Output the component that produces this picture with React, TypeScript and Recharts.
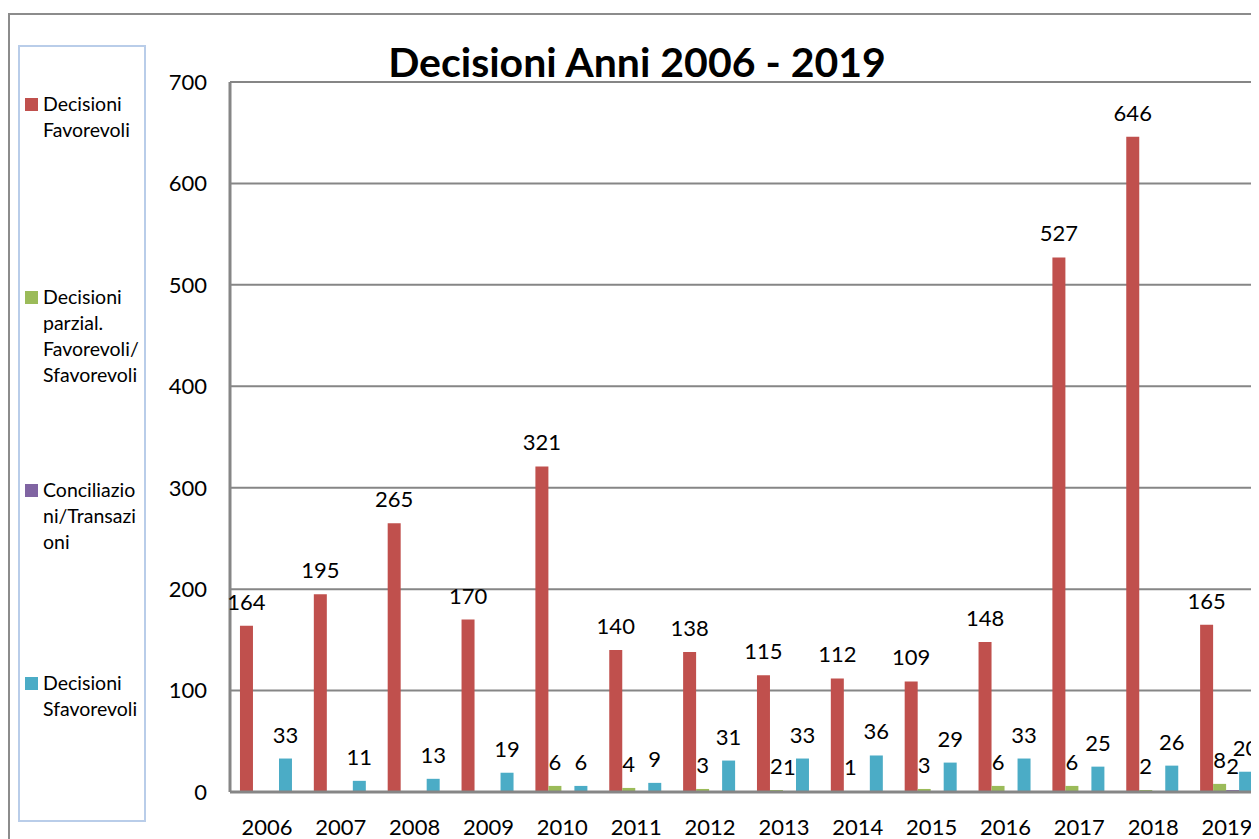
import React from 'react'
import { BarChart, Bar, XAxis, YAxis, CartesianGrid, LabelList } from 'recharts'

const years = ['2006', '2007', '2008', '2009', '2010', '2011', '2012', '2013', '2014', '2015', '2016', '2017', '2018', '2019']
const favorevoli = [164, 195, 265, 170, 321, 140, 138, 115, 112, 109, 148, 527, 646, 165]
const parziali = [0, 0, 0, 0, 6, 4, 3, 2, 1, 3, 6, 6, 2, 8]
const conciliazioni = [0, 0, 0, 0, 0, 0, 0, 1, 0, 0, 0, 0, 0, 2]
const sfavorevoli = [33, 11, 13, 19, 6, 9, 31, 33, 36, 29, 33, 25, 26, 20]
const yTicks = [0, 100, 200, 300, 400, 500, 600, 700]

const series = [
  { key: 'favorevoli', lines: ['Decisioni', 'Favorevoli'], color: '#C0504D' },
  { key: 'parziali', lines: ['Decisioni', 'parzial.', 'Favorevoli/', 'Sfavorevoli'], color: '#9BBB59' },
  { key: 'conciliazioni', lines: ['Conciliazio', 'ni/Transazi', 'oni'], color: '#8064A2' },
  { key: 'sfavorevoli', lines: ['Decisioni', 'Sfavorevoli'], color: '#4BACC6' },
]

const data = years.map((year, i) => ({
  year,
  favorevoli: favorevoli[i],
  parziali: parziali[i],
  conciliazioni: conciliazioni[i],
  sfavorevoli: sfavorevoli[i],
}))

const font = 'Lato, "Open Sans", sans-serif'
const hideZero = (v: any) => (v ? v : '')

export default function App() {
  return (
    <div style={{ position: 'relative', width: 1251, height: 831, overflow: 'hidden', fontFamily: font }}>
      {/* outer frame */}
      <div style={{ position: 'absolute', left: 0, top: 5, width: 1400, height: 1000, border: '2px solid #8c8c8c' }} />

      {/* legend box */}
      <div style={{ position: 'absolute', left: 10, top: 37, width: 124, height: 773, border: '2px solid #b9cde9' }} />
      {series.map((s, i) => (
        <div key={s.key} style={{ position: 'absolute', left: 17, top: 83 + i * 193, display: 'flex' }}>
          <div style={{ width: 13, height: 13, background: s.color, marginTop: 7, marginRight: 5 }} />
          <div style={{ fontSize: 19.5, lineHeight: '26px', color: '#000' }}>
            {s.lines.map((l) => (
              <div key={l}>{l}</div>
            ))}
          </div>
        </div>
      ))}

      <div style={{ position: 'absolute', left: 0, top: 0 }}>
        <BarChart
          width={1270}
          height={831}
          data={data}
          margin={{ top: 74, right: 14, left: 0, bottom: 0 }}
          barCategoryGap="13.5%"
          barGap={0}
        >
          <CartesianGrid vertical={false} stroke="#868686" strokeWidth={2} />
          <XAxis
            dataKey="year"
            height={47}
            tickLine={false}
            tickSize={6}
            tickMargin={21}
            axisLine={{ stroke: '#868686', strokeWidth: 3 }}
            tick={{ fill: '#000', fontSize: 22, fontFamily: font }}
            interval={0}
          />
          <YAxis
            width={222}
            domain={[0, 700]}
            ticks={yTicks}
            tickLine={false}
            tickSize={6}
            tickMargin={17}
            axisLine={{ stroke: '#868686', strokeWidth: 3 }}
            tick={{ fill: '#000', fontSize: 22, fontFamily: font }}
          />
          {series.map((s) => (
            <Bar key={s.key} dataKey={s.key} fill={s.color} isAnimationActive={false}>
              <LabelList
                dataKey={s.key}
                position="top"
                offset={16}
                formatter={hideZero}
                fill="#000"
                fontSize={22}
                fontFamily={font}
              />
            </Bar>
          ))}
        </BarChart>
      </div>

      <div
        style={{
          position: 'absolute',
          left: 0,
          top: 33,
          width: 1258,
          textAlign: 'center',
          fontSize: 41,
          lineHeight: '41px',
          fontWeight: 'bold',
          color: '#000',
        }}
      >
        Decisioni Anni 2006 - 2019
      </div>
    </div>
  )
}
